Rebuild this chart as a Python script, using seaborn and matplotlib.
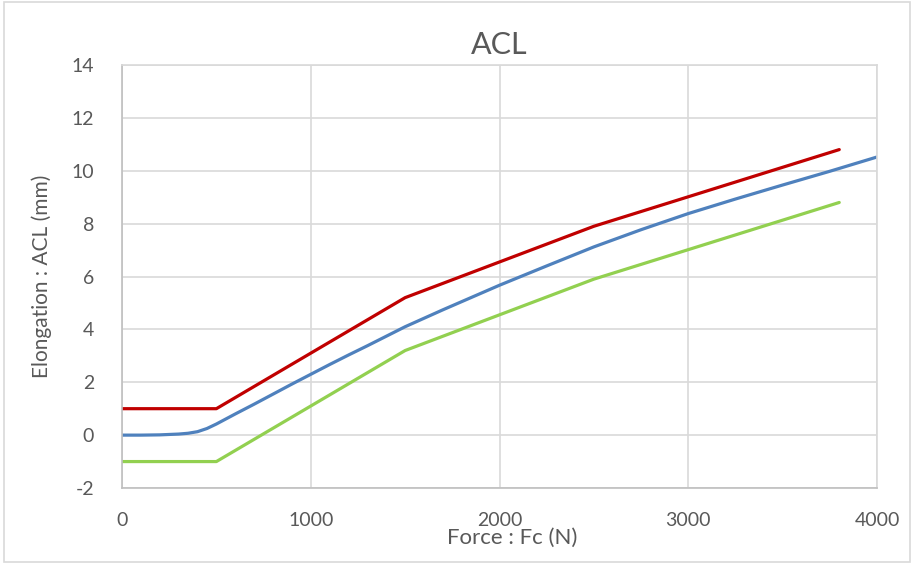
import matplotlib.pyplot as plt
import seaborn as sns

# Data
force_blue = [0, 100, 200, 300, 350, 400, 450, 500, 600, 700, 800, 900, 1000,
              1100, 1200, 1300, 1400, 1500, 1600, 1700, 1800, 1900, 2000,
              2250, 2500, 2750, 3000, 3250, 3500, 3750, 4000]
elong_blue = [0, 0, 0.01, 0.04, 0.07, 0.13, 0.25, 0.42, 0.8, 1.17, 1.55, 1.93, 2.3,
              2.67, 3.03, 3.38, 3.74, 4.1, 4.42, 4.74, 5.05, 5.36, 5.67,
              6.4, 7.12, 7.77, 8.38, 8.93, 9.46, 9.98, 10.52]

force_bound = [0, 500, 1500, 2500, 3800]
elong_upper = [1, 1, 5.2, 7.9, 10.8]
elong_lower = [-1, -1, 3.2, 5.9, 8.8]

sns.set_style("white")
plt.rcParams["font.family"] = ["Lato", "DejaVu Sans"]
plt.rcParams["axes.unicode_minus"] = False
text_color = "#595959"

fig = plt.figure(figsize=(9.14, 5.64), dpi=100)
ax = fig.add_axes([122 / 914, 1 - 488 / 564, 755 / 914, 423 / 564])

sns.lineplot(x=force_bound, y=elong_upper, ax=ax, color="#C00000", linewidth=2.3)
sns.lineplot(x=force_blue, y=elong_blue, ax=ax, color="#4F81BD", linewidth=2.3)
sns.lineplot(x=force_bound, y=elong_lower, ax=ax, color="#92D050", linewidth=2.3)

ax.set_xlim(0, 4000)
ax.set_ylim(-2, 14)
ax.set_xticks(range(0, 4001, 1000))
ax.set_yticks(range(-2, 15, 2))
ax.grid(True, color="#D9D9D9", linewidth=1.2)
ax.set_axisbelow(True)

for side in ["top", "right"]:
    ax.spines[side].set_color("#D9D9D9")
    ax.spines[side].set_linewidth(1.2)
for side in ["left", "bottom"]:
    ax.spines[side].set_color("#BFBFBF")
    ax.spines[side].set_linewidth(1.2)

ax.tick_params(axis="both", length=0, labelsize=14, labelcolor=text_color)
ax.tick_params(axis="x", pad=17)
ax.tick_params(axis="y", pad=20)

ax.set_title("ACL", fontsize=22, color=text_color, pad=8)
ax.set_xlabel("Force : Fc (N)", fontsize=16, color=text_color, labelpad=-3)
ax.xaxis.set_label_coords(0.517, -0.095)
ax.set_ylabel("Elongation : ACL (mm)", fontsize=15, color=text_color, labelpad=14)

# light border around the chart area
border = plt.Rectangle((0.004, 0.004), 0.992, 0.992, transform=fig.transFigure,
                       fill=False, edgecolor="#D9D9D9", linewidth=1.2)
fig.patches.append(border)

plt.savefig("out.png", dpi=100)
